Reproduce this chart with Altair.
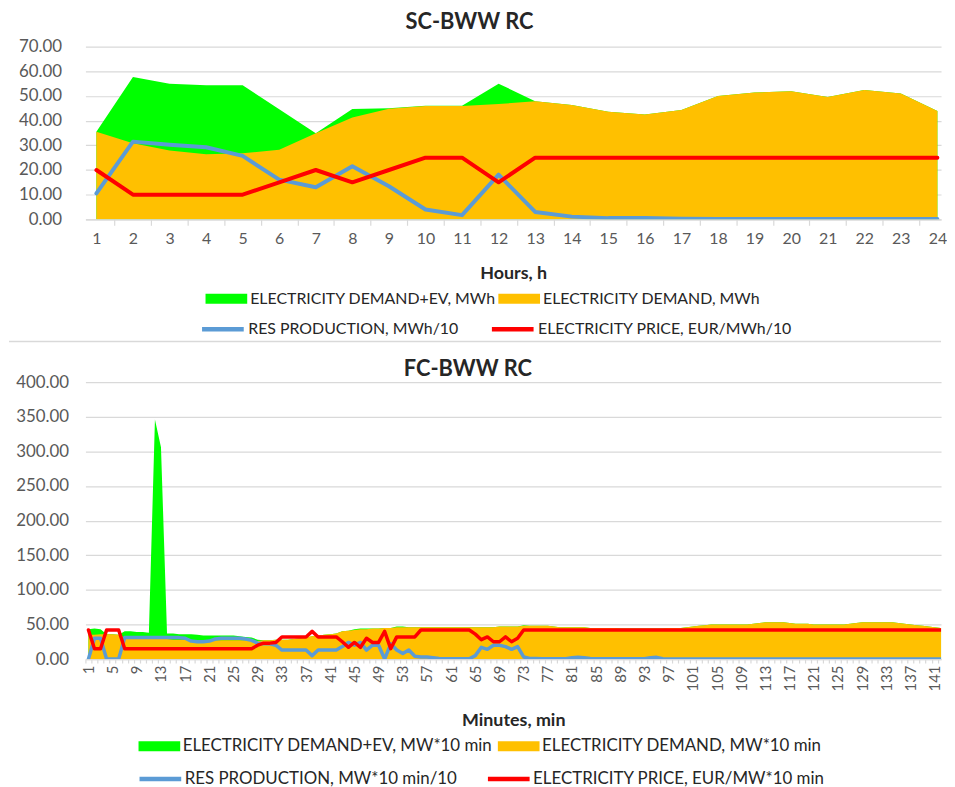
import altair as alt
import pandas as pd

# ---------------- top panel: hourly data ----------------
hours = list(range(1, 25))
demand_ev_h = [35.5, 57.7, 55.0, 54.3, 54.3, 44.6, 34.9, 44.7, 45.0, 46.0, 46.0, 55.0,
               47.9, 46.3, 43.6, 42.5, 44.3, 50.0, 51.4, 51.9, 49.6, 52.4, 51.0, 43.9]
demand_h = [35.5, 30.8, 27.9, 26.4, 26.8, 28.2, 34.9, 41.3, 44.8, 45.9, 45.9, 46.7,
            47.9, 46.3, 43.6, 42.5, 44.3, 50.0, 51.4, 51.9, 49.6, 52.4, 51.0, 43.9]
res_h = [10.5, 31.5, 30.2, 29.2, 25.7, 16.1, 13.0, 21.5, 13.4, 4.0, 1.7, 18.1,
         3.0, 1.1, 0.5, 0.5, 0.2, 0.1, 0.1, 0.1, 0.1, 0.1, 0.1, 0.1]
price_h = [20, 10, 10, 10, 10, 15, 20, 15, 20, 25, 25, 15,
           25, 25, 25, 25, 25, 25, 25, 25, 25, 25, 25, 25]
top_y_ticks = [0, 10, 20, 30, 40, 50, 60, 70]
top_x_boundaries = [h + 0.5 for h in hours if h <= 23]

# ---------------- bottom panel: 10-minute data ----------------
minutes = list(range(1, 145))
demand_ev_m = [43, 44, 43, 36, 36, 35,
               40, 40, 39, 39, 38, 346,
               306, 37, 37, 36, 36, 36,
               35, 34, 34, 34, 34, 34,
               34, 33, 32, 31, 28, 27,
               27, 28, 28, 28, 29, 30,
               31, 33, 34, 35, 36, 37,
               40, 41, 43, 44, 44, 44,
               44, 45, 45, 47, 47, 46,
               46, 46, 46, 46, 46, 46,
               46, 46, 46, 46, 46, 46,
               46, 46, 47, 47, 47, 47,
               49, 48, 48, 48, 48, 47,
               46, 46, 46, 46, 46, 45,
               45, 45, 45, 45, 44, 44,
               44, 44, 44, 44, 44, 44,
               45, 45, 45, 46, 47, 48,
               49, 50, 50, 50, 50, 50,
               50, 50, 51, 52, 53, 53,
               53, 53, 52, 51, 51, 51,
               50, 50, 50, 50, 50, 50,
               51, 52, 53, 53, 53, 53,
               53, 53, 52, 51, 50, 49,
               48, 47, 46, 45, 45, 44]
demand_m = [35, 35, 36, 36, 36, 35,
            31, 31, 31, 31, 30, 30,
            29, 29, 28, 28, 28, 27,
            26, 26, 26, 27, 27, 27,
            27, 27, 27, 26, 26, 27,
            27, 28, 28, 28, 29, 30,
            31, 33, 34, 35, 36, 37,
            40, 41, 42, 43, 43, 44,
            44, 45, 45, 46, 46, 46,
            46, 46, 46, 46, 46, 46,
            46, 46, 46, 46, 46, 46,
            46, 46, 47, 47, 47, 47,
            48, 48, 48, 48, 48, 47,
            46, 46, 46, 46, 46, 45,
            45, 45, 45, 45, 44, 44,
            44, 44, 44, 44, 44, 44,
            45, 45, 45, 46, 47, 48,
            49, 50, 50, 50, 50, 50,
            50, 50, 51, 52, 53, 53,
            53, 53, 52, 51, 51, 51,
            50, 50, 50, 50, 50, 50,
            51, 52, 53, 53, 53, 53,
            53, 53, 52, 51, 50, 49,
            48, 47, 46, 45, 45, 44]
res_m = [0, 30, 30, 0, 0, 0,
         31, 31, 31, 31, 31, 31,
         31, 31, 31, 31, 30, 26,
         25, 25, 26, 29, 30, 30,
         30, 30, 29, 27, 23, 22,
         22, 20, 13, 13, 13, 13,
         13, 5, 13, 13, 13, 13,
         18, 24, 20, 24, 13, 20,
         20, 0, 22, 13, 8, 13,
         4, 3, 3, 2, 1, 0.5,
         0.5, 0.5, 0.5, 0.5, 5, 17,
         14, 20, 20, 18, 14, 18,
         3, 1, 1, 0.5, 0.5, 0.5,
         0.5, 0.5, 2, 2.5, 2, 1,
         0.5, 0.5, 0.5, 0.5, 0.5, 0.5,
         0.5, 0.5, 0.5, 2, 2.5, 0.5,
         0, 0, 0, 0, 0, 0,
         0, 0, 0, 0, 0, 0,
         0, 0, 0, 0, 0, 0,
         0, 0, 0, 0, 0, 0,
         0, 0, 0, 0, 0, 0,
         0, 0, 0, 0, 0, 0,
         0, 0, 0, 0, 0, 0,
         0, 0, 0, 0, 0, 0]
price_m = [42, 15, 15, 42, 42, 42,
           15, 15, 15, 15, 15, 15,
           15, 15, 15, 15, 15, 15,
           15, 15, 15, 15, 15, 15,
           15, 15, 15, 15, 20, 23,
           23, 24, 32, 32, 32, 32,
           32, 40, 32, 32, 32, 32,
           25, 17, 24, 17, 30, 24,
           24, 40, 15, 32, 32, 32,
           32, 42, 42, 42, 42, 42,
           42, 42, 42, 42, 36, 28,
           32, 25, 25, 32, 25, 30,
           42, 42, 42, 42, 42, 42,
           42, 42, 42, 42, 42, 42,
           42, 42, 42, 42, 42, 42,
           42, 42, 42, 42, 42, 42,
           42, 42, 42, 42, 42, 42,
           42, 42, 42, 42, 42, 42,
           42, 42, 42, 42, 42, 42,
           42, 42, 42, 42, 42, 42,
           42, 42, 42, 42, 42, 42,
           42, 42, 42, 42, 42, 42,
           42, 42, 42, 42, 42, 42,
           42, 42, 42, 42, 42, 42]
bottom_y_ticks = [0, 50, 100, 150, 200, 250, 300, 350, 400]
bottom_x_labels = list(range(1, 145, 4))
bottom_x_boundaries = [m - 0.5 for m in minutes if m <= 142]

# ---------------- names ----------------
T_G = "ELECTRICITY DEMAND+EV, MWh"
T_O = "ELECTRICITY DEMAND, MWh"
T_B = "RES PRODUCTION, MWh/10"
T_R = "ELECTRICITY PRICE, EUR/MWh/10"
B_G = "ELECTRICITY DEMAND+EV, MW*10 min"
B_O = "ELECTRICITY DEMAND, MW*10 min"
B_B = "RES PRODUCTION, MW*10 min/10"
B_R = "ELECTRICITY PRICE, EUR/MW*10 min"

GREEN, ORANGE, BLUE, RED = "#00FF00", "#FFC000", "#5B9BD5", "#FF0000"
FONT = "Lato"
LABEL_C = "#595959"
TEXT_C = "#262626"
GRID_C = "#d9d9d9"

def long_df(x, pairs):
    return pd.concat([pd.DataFrame({"x": x, "v": vals, "s": name}) for name, vals in pairs],
                     ignore_index=True)

top_df = long_df(hours, [(T_G, demand_ev_h), (T_O, demand_h), (T_B, res_h), (T_R, price_h)])
bot_df = long_df(minutes, [(B_G, demand_ev_m), (B_O, demand_m), (B_B, res_m), (B_R, price_m)])

RECT = "M-3,-0.72H3V0.72H-3Z"
LINE = "M-3,0H3"
EXTENT = 77


def panel(df, names, title, title_offset, xdomain, width, height, ydomain, yticks,
          ylab_pad, xlabel_vals, xbounds, xtitle, label_angle, lab_size, lab_pad,
          title_pad, tick_size, lw, fill_leg, stroke_leg, legend_font, separator=None):
    g, o, b, r = names
    xs = alt.Scale(domain=xdomain, nice=False, zero=False)
    yaxis = alt.Axis(values=yticks, format=".2f", title=None, domain=False, ticks=False,
                     grid=True, gridColor=GRID_C, gridWidth=1.2,
                     labelFont=FONT, labelFontSize=17, labelColor=LABEL_C,
                     labelPadding=ylab_pad, minExtent=EXTENT, maxExtent=EXTENT)
    yenc = alt.Y("v:Q", scale=alt.Scale(domain=ydomain, nice=False, zero=True),
                 axis=yaxis, stack=None)
    label_axis = alt.Axis(values=xlabel_vals, orient="bottom", title=xtitle, ticks=False,
                          domain=False, grid=False, labelFont=FONT, labelFontSize=lab_size,
                          labelColor=LABEL_C, labelPadding=lab_pad,
                          labelAngle=label_angle, labelFlush=False, labelOverlap=False,
                          titleFont=FONT, titleFontSize=18, titleFontWeight="bold",
                          titleColor=TEXT_C, titlePadding=title_pad)
    tick_axis = alt.Axis(values=xbounds, orient="bottom", labels=False, ticks=True,
                         tickSize=tick_size, tickColor=GRID_C, tickWidth=1.2,
                         domain=True, domainColor=GRID_C, domainWidth=1.2,
                         grid=False, title=None)
    fill_scale = alt.Scale(domain=[g, o], range=[GREEN, ORANGE])
    stroke_scale = alt.Scale(domain=[b, r], range=[BLUE, RED])
    flg = alt.Legend(title=None, orient="none", direction="horizontal", padding=0,
                     symbolType=RECT, symbolSize=196, symbolStrokeWidth=0,
                     labelFont=FONT, labelFontSize=legend_font, labelColor=TEXT_C,
                     labelLimit=500, **fill_leg)
    slg = alt.Legend(title=None, orient="none", direction="horizontal", padding=0,
                     symbolType=LINE, symbolSize=196, symbolStrokeWidth=4.5,
                     labelFont=FONT, labelFontSize=legend_font, labelColor=TEXT_C,
                     labelLimit=500, **stroke_leg)

    base = alt.Chart(df)
    green = base.transform_filter(alt.datum.s == g).mark_area(clip=True, opacity=1).encode(
        x=alt.X("x:Q", scale=xs, axis=label_axis), y=yenc,
        fill=alt.Fill("s:N", scale=fill_scale, legend=flg))
    orange = base.transform_filter(alt.datum.s == o).mark_area(clip=True, opacity=1).encode(
        x=alt.X("x:Q", scale=xs, axis=tick_axis), y=yenc,
        fill=alt.Fill("s:N", scale=fill_scale, legend=flg))
    blue = base.transform_filter(alt.datum.s == b).mark_line(
        clip=True, strokeWidth=lw, strokeJoin="round", strokeCap="round").encode(
        x=alt.X("x:Q", scale=xs, axis=None), y=yenc,
        stroke=alt.Stroke("s:N", scale=stroke_scale, legend=slg))
    red = base.transform_filter(alt.datum.s == r).mark_line(
        clip=True, strokeWidth=lw, strokeJoin="round", strokeCap="round").encode(
        x=alt.X("x:Q", scale=xs, axis=None), y=yenc,
        stroke=alt.Stroke("s:N", scale=stroke_scale, legend=slg))
    layers = [green, orange, blue, red]
    if separator is not None:
        sep = alt.Chart(pd.DataFrame({"k": [0]})).mark_rule(
            color=GRID_C, strokeWidth=1.5).encode(
            x=alt.value(-EXTENT), x2=alt.value(width), y=alt.value(separator))
        layers.append(sep)
    return alt.layer(*layers).resolve_axis(x="independent").properties(
        width=width, height=height,
        title=alt.TitleParams(title, font=FONT, fontSize=22, fontWeight="bold",
                              color=TEXT_C, anchor="middle", frame="bounds",
                              offset=title_offset, dx=-8))


top = panel(top_df, [T_G, T_O, T_B, T_R], "SC-BWW RC", 4, [0.70, 24.1], 862, 174,
            [0, 70], top_y_ticks, 24, hours, top_x_boundaries, "Hours, h", 0, 16, 11, 19,
            6, 4,
            dict(legendX=134, legendY=246, labelOffset=16, columnPadding=2),
            dict(legendX=129, legendY=275, labelOffset=16, columnPadding=24),
            16, separator=297)

bottom = panel(bot_df, [B_G, B_O, B_B, B_R], "FC-BWW RC", -8, [0.5, 142.05], 862, 279,
               [0, 400], bottom_y_ticks, 17, bottom_x_labels, bottom_x_boundaries,
               "Minutes, min", 270, 15, 6, 21, 4, 3.5,
               dict(legendX=66, legendY=358, labelOffset=15, columnPadding=4),
               dict(legendX=66, legendY=390, labelOffset=15, columnPadding=21),
               17)

chart = alt.vconcat(top, bottom, spacing=16).resolve_scale(
    fill="independent", stroke="independent").properties(
    padding={"left": 0, "top": 0, "right": 0, "bottom": 0},
    background="white",
).configure_view(strokeWidth=0)

chart.save("out.html", embed_options={"renderer": "svg", "actions": False})
